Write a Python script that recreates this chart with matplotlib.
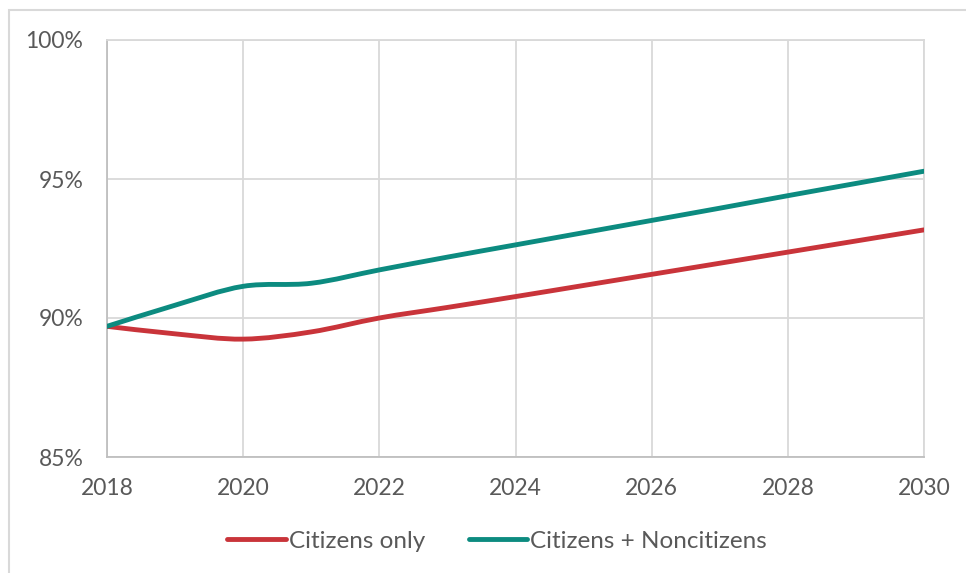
import numpy as np
import matplotlib
matplotlib.use("Agg")
import matplotlib.pyplot as plt
from matplotlib.path import Path
from matplotlib.patches import PathPatch, Rectangle
from matplotlib.lines import Line2D

# data (share of population, %)
years = [2018, 2019, 2020, 2021, 2022, 2023, 2024, 2025, 2026, 2027, 2028, 2029, 2030]
citizens_only = [89.70, 89.43, 89.24, 89.50, 90.00, 90.38, 90.77, 91.17, 91.57, 91.97, 92.37, 92.77, 93.17]
citizens_noncitizens = [89.70, 90.46, 91.14, 91.25, 91.73, 92.19, 92.63, 93.07, 93.51, 93.95, 94.40, 94.84, 95.28]
series_names = ["Citizens only", "Citizens + Noncitizens"]
series_colors = ["#C9343A", "#0C8B80"]
x_ticks = [2018, 2020, 2022, 2024, 2026, 2028, 2030]
y_ticks = [85, 90, 95, 100]

text_col = "#595959"
plt.rcParams['font.family'] = ['Lato', 'DejaVu Sans']


def smooth_path(xs, ys):
    # excel-style smoothed line: cubic bezier through every point
    pts = np.column_stack([xs, ys]).astype(float)
    verts = [pts[0]]
    codes = [Path.MOVETO]
    n = len(pts)
    for i in range(n - 1):
        p0 = pts[i - 1] if i > 0 else pts[i]
        p1 = pts[i]
        p2 = pts[i + 1]
        p3 = pts[i + 2] if i + 2 < n else pts[i + 1]
        c1 = p1 + (p2 - p0) / 6.0
        c2 = p2 - (p3 - p1) / 6.0
        verts += [c1, c2, p2]
        codes += [Path.CURVE4] * 3
    return Path(verts, codes)


fig = plt.figure(figsize=(9.66, 5.73), dpi=100)
ax = fig.add_axes([107 / 966, 1 - 457 / 573, (924 - 107) / 966, (457 - 40) / 573])

handles = []
for vals, name, col in zip([citizens_only, citizens_noncitizens], series_names, series_colors):
    p = PathPatch(smooth_path(years, vals), facecolor='none', edgecolor=col,
                  lw=3.5, capstyle='round', joinstyle='round', zorder=3)
    ax.add_patch(p)
    handles.append(Line2D([], [], color=col, lw=3.5, solid_capstyle='round', label=name))

ax.set_xlim(2018, 2030)
ax.set_ylim(85, 100)
ax.set_xticks(x_ticks)
ax.set_xticklabels([str(x) for x in x_ticks])
ax.set_yticks(y_ticks)
ax.set_yticklabels([f"{y}%" for y in y_ticks])
ax.grid(True, color="#d9d9d9", lw=1.3)
ax.set_axisbelow(True)
for s in ['top', 'right']:
    ax.spines[s].set_color("#d9d9d9")
    ax.spines[s].set_linewidth(1.3)
for s in ['left', 'bottom']:
    ax.spines[s].set_color("#bfbfbf")
    ax.spines[s].set_linewidth(1.3)
ax.tick_params(axis='both', length=0, labelsize=16.5, labelcolor=text_col)
ax.tick_params(axis='y', pad=17)
ax.tick_params(axis='x', pad=15)

fig.legend(handles=handles, loc='center', bbox_to_anchor=(497 / 966, 1 - 541 / 573),
           ncol=2, frameon=False, fontsize=17.5, labelcolor=text_col,
           handlelength=2.4, handletextpad=0.12, columnspacing=1.8)

# light frame around the chart
fig.patches.append(Rectangle((9 / 966, -0.1), 1.2, 1.1 - 10 / 573, transform=fig.transFigure,
                             facecolor='none', edgecolor="#d9d9d9", lw=1.5))

fig.savefig("out.png", dpi=100)
